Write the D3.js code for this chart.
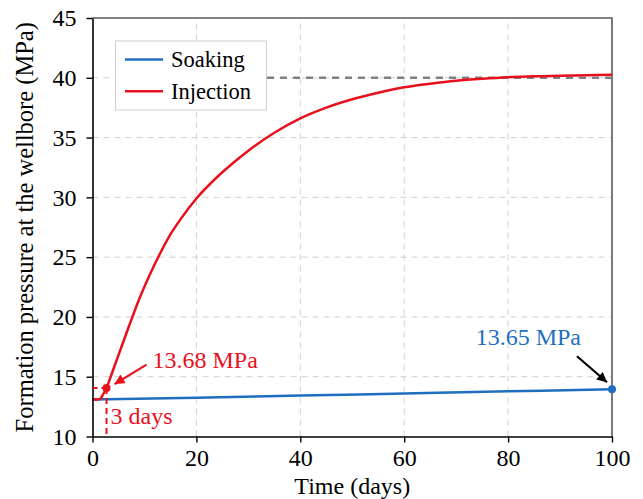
<!DOCTYPE html>
<html><head><meta charset="utf-8">
<script src="https://cdn.jsdelivr.net/npm/d3@7"></script>
<style>
html,body{margin:0;padding:0;background:#fff;}
svg{display:block;}
svg text{font-family:"Liberation Serif","Times New Roman",serif !important;}
</style></head>
<body><svg id="c" width="643" height="499"></svg>
<script>
// ---- data ----
const xTicks = [0, 20, 40, 60, 80, 100];
const yTicks = [10, 15, 20, 25, 30, 35, 40, 45];
const soakDays = [0, 20, 40, 60, 80, 100];
const soakPressure = [13.1, 13.25, 13.42, 13.6, 13.78, 13.95];
const injDays = [0, 1, 1.5, 2, 2.7, 3.5, 5, 7, 9, 11, 13, 15, 17, 20, 24, 27, 30, 35, 40, 45, 50, 55, 60, 65, 70, 75, 80, 85, 90, 95, 100];
const injPressure = [13.1, 13.1, 13.15, 13.5, 14.05, 15.0, 16.8, 19.2, 21.5, 23.5, 25.3, 26.9, 28.2, 29.9, 31.7, 32.85, 33.9, 35.4, 36.6, 37.5, 38.2, 38.75, 39.2, 39.5, 39.75, 39.92, 40.05, 40.12, 40.18, 40.22, 40.25];
const refLine = {from: 33.6, to: 100, value: 40};
const injPoint = {day: 2.7, value: 14.05, label: "13.68 MPa", dayLabel: "3 days"};
const soakPoint = {day: 100, value: 13.95, label: "13.65 MPa"};
const seriesNames = ["Soaking", "Injection"];
const colors = {Soaking: "#1f6fc0", Injection: "#e8101c"};

// ---- chart ----
const svg = d3.select("#c");
const x = d3.scaleLinear().domain([0, 100]).range([92.5, 612]);
const y = d3.scaleLinear().domain([10, 45]).range([436.5, 18]);
const FS = 24;
const FF = "Liberation Serif";

// grid
const g = svg.append("g");
g.selectAll(".gx").data(xTicks.filter(d => d > 0 && d < 100)).join("line")
  .attr("x1", d => x(d)).attr("x2", d => x(d)).attr("y1", y(10)).attr("y2", y(45))
  .attr("stroke", "#d0d0d0").attr("stroke-width", 1).attr("stroke-dasharray", "6,5");
g.selectAll(".gy").data(yTicks.filter(d => d > 10 && d < 45)).join("line")
  .attr("x1", x(0)).attr("x2", x(100)).attr("y1", d => y(d)).attr("y2", d => y(d))
  .attr("stroke", "#d0d0d0").attr("stroke-width", 1).attr("stroke-dasharray", "6,5");

// frame top/right
svg.append("path")
  .attr("d", `M${x(0)},${y(45)}H${x(100)}V${y(10)}`)
  .attr("fill", "none").attr("stroke", "#5a5a5a").attr("stroke-width", 1.6);

// reference line
svg.append("line")
  .attr("x1", x(refLine.from)).attr("x2", x(refLine.to))
  .attr("y1", y(refLine.value)).attr("y2", y(refLine.value))
  .attr("stroke", "#808080").attr("stroke-width", 2.6).attr("stroke-dasharray", "7,6");

// lines
const line = d3.line().x(d => x(d[0])).y(d => y(d[1])).curve(d3.curveMonotoneX);
svg.append("path").datum(soakDays.map((d, i) => [d, soakPressure[i]]))
  .attr("d", line).attr("fill", "none").attr("stroke", colors.Soaking).attr("stroke-width", 2.5);
svg.append("path").datum(injDays.map((d, i) => [d, injPressure[i]]))
  .attr("d", line).attr("fill", "none").attr("stroke", colors.Injection).attr("stroke-width", 2.5);

// axes
const ax = svg.append("g").attr("transform", `translate(0,${y(10)})`)
  .call(d3.axisBottom(x).tickValues(xTicks).tickSize(6).tickPadding(6).tickSizeOuter(0));
const ay = svg.append("g").attr("transform", `translate(${x(0)},0)`)
  .call(d3.axisLeft(y).tickValues(yTicks).tickSize(6).tickPadding(10).tickSizeOuter(0));
[ax, ay].forEach(a => {
  a.attr("font-family", FF).attr("font-size", FS);
  a.select(".domain").attr("stroke", "#000").attr("stroke-width", 1.6);
  a.selectAll(".tick line").attr("stroke", "#000").attr("stroke-width", 1.4);
  a.selectAll(".tick text").attr("font-size", FS).attr("fill", "#000").attr("font-family", FF);
});

// axis titles
svg.append("text").attr("x", (x(0) + x(100)) / 2).attr("y", 494)
  .attr("text-anchor", "middle").attr("font-size", FS).text("Time (days)");
svg.append("text").attr("transform", `translate(33,${(y(10) + y(45)) / 2}) rotate(-90)`)
  .attr("text-anchor", "middle").attr("font-size", 24.5).text("Formation pressure at the wellbore (MPa)");

// arrowheads
const defs = svg.append("defs");
[["arrRed", colors.Injection], ["arrBlk", "#000"]].forEach(([id, c]) => {
  defs.append("marker").attr("id", id).attr("viewBox", "0 0 10 10")
    .attr("refX", 10).attr("refY", 5).attr("markerWidth", 13).attr("markerHeight", 10)
    .attr("markerUnits", "userSpaceOnUse").attr("orient", "auto")
    .append("path").attr("d", "M0,0L10,5L0,10Z").attr("fill", c);
});

// injection annotation
const px = x(injPoint.day), py = y(injPoint.value);
svg.append("line").attr("x1", x(0)).attr("x2", px).attr("y1", py).attr("y2", py)
  .attr("stroke", colors.Injection).attr("stroke-width", 2).attr("stroke-dasharray", "5,4");
svg.append("line").attr("x1", px).attr("x2", px).attr("y1", py).attr("y2", y(10))
  .attr("stroke", colors.Injection).attr("stroke-width", 2).attr("stroke-dasharray", "6,4");
svg.append("circle").attr("cx", px).attr("cy", py).attr("r", 4).attr("fill", colors.Injection);
svg.append("line").attr("x1", px + 40).attr("y1", py - 23.5).attr("x2", px + 8).attr("y2", py - 4)
  .attr("stroke", colors.Injection).attr("stroke-width", 2.2).attr("marker-end", "url(#arrRed)");
svg.append("text").attr("x", px + 46).attr("y", py - 20).attr("font-size", FS)
  .attr("fill", colors.Injection).text(injPoint.label);
svg.append("text").attr("x", px + 4).attr("y", 424).attr("font-size", FS)
  .attr("fill", colors.Injection).text(injPoint.dayLabel);

// soaking annotation
const sx = x(soakPoint.day), sy = y(soakPoint.value);
svg.append("circle").attr("cx", sx).attr("cy", sy).attr("r", 4).attr("fill", colors.Soaking);
svg.append("line").attr("x1", sx - 35).attr("y1", sy - 33).attr("x2", sx - 5).attr("y2", sy - 7)
  .attr("stroke", "#000").attr("stroke-width", 2.2).attr("marker-end", "url(#arrBlk)");
svg.append("text").attr("x", sx - 31).attr("y", sy - 44).attr("text-anchor", "end")
  .attr("font-size", FS).attr("fill", colors.Soaking).text(soakPoint.label);

// legend
const lg = svg.append("g");
lg.append("rect").attr("x", 115.5).attr("y", 41).attr("width", 151).attr("height", 69)
  .attr("fill", "#fff").attr("stroke", "#cfcfcf").attr("stroke-width", 1);
seriesNames.forEach((n, i) => {
  const ly = 59.5 + i * 31.7;
  lg.append("line").attr("x1", 125).attr("x2", 163).attr("y1", ly).attr("y2", ly)
    .attr("stroke", colors[n]).attr("stroke-width", 2.5);
  lg.append("text").attr("x", 171).attr("y", ly + 7.5).attr("font-size", 22.5).text(n);
});
</script></body></html>
